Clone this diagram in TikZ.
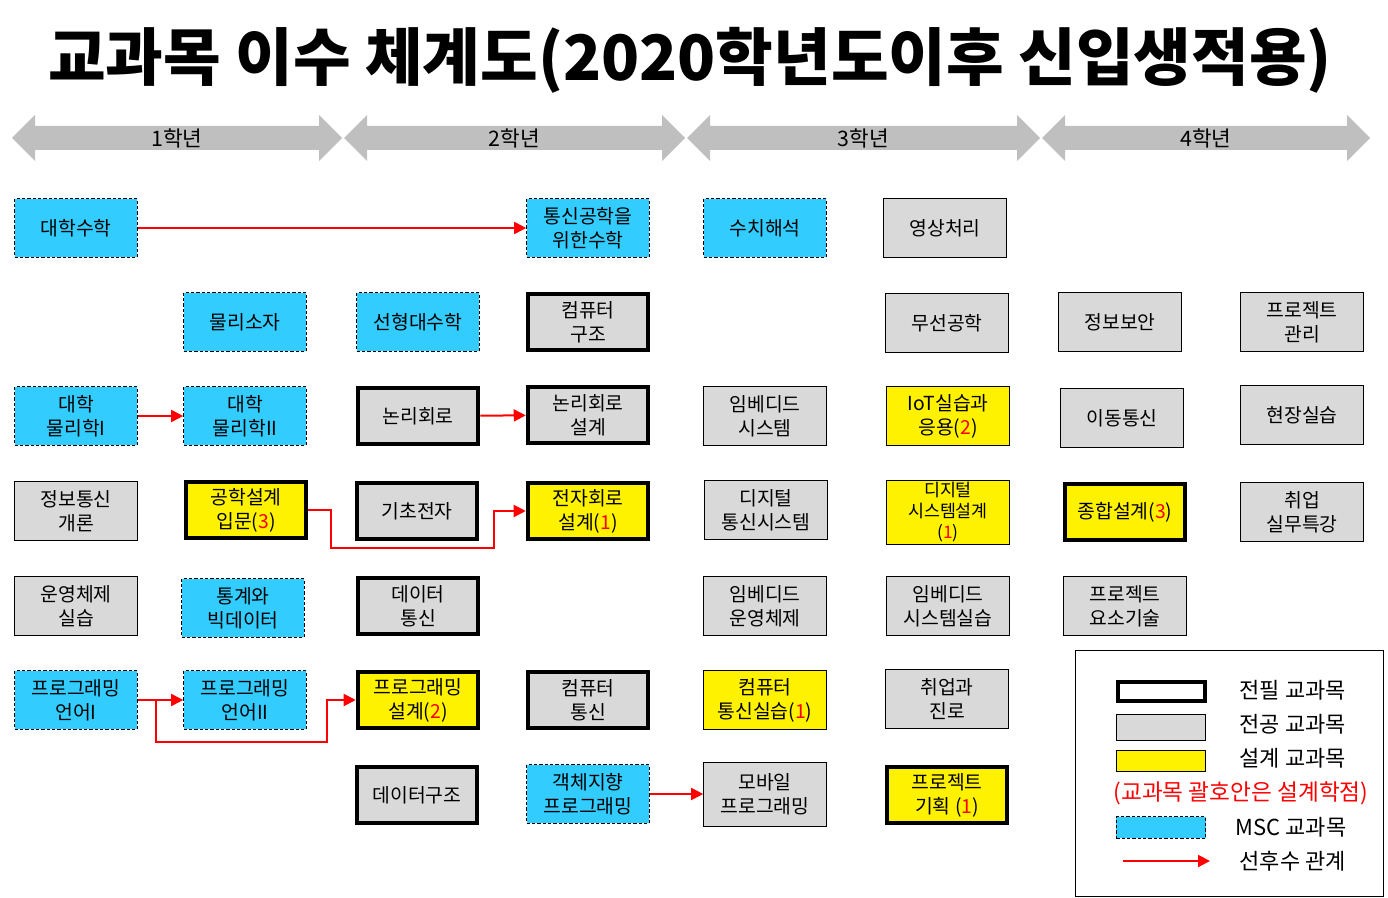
\documentclass[tikz,border=0pt]{standalone}
\usepackage{fontspec}
\setmainfont{Noto Sans CJK KR}
\usetikzlibrary{arrows.meta,positioning}
\definecolor{msccyan}{HTML}{33CCFF}
\definecolor{boxgray}{HTML}{D9D9D9}
\definecolor{bargray}{HTML}{BFBFBF}
\newcommand{\dcr}[1]{(\textcolor{red}{#1})}

\begin{document}
\begin{tikzpicture}[x=0.75pt, y=-0.75pt,
  course/.style={draw, line width=0.75pt, fill=boxgray, minimum width=92pt, minimum height=44pt,
    inner sep=1pt, align=center, font=\fontsize{14.5}{18}\selectfont},
  msc/.style={course, fill=msccyan, dash pattern=on 2.5pt off 1.5pt},
  req/.style={line width=3.4pt, minimum width=90pt, minimum height=42pt},
  dsgn/.style={fill=yellow},
  prereq/.style={draw=red, line width=1.5pt, -{Triangle[length=9pt,width=9pt]}},
  lgtext/.style={anchor=west, font=\fontsize{16.5}{18}\selectfont}]
\useasboundingbox (0,0) rectangle (1388,898);
% title
\node[font=\fontsize{47}{52}\selectfont\bfseries] (title) at (690,60) {교과목 이수 체계도(2020학년도이후 신입생적용)};
% year arrows
\foreach \xa/\xb/\n in {12/342/1, 344/685/2, 687/1040/3, 1042/1370/4} {
  \fill[bargray] (\xa,138) -- (\xa+23,115) -- (\xa+23,126) -- (\xb-23,126) -- (\xb-23,115) -- (\xb,138)
    -- (\xb-23,161) -- (\xb-23,150) -- (\xa+23,150) -- (\xa+23,161) -- cycle;
  \node[font=\fontsize{16}{18}\selectfont] (yr\n) at ({(\xa+\xb)/2},138) {{\n}학년};
}
% row 1
\node[msc] (dm) at (76,228) {대학수학};
\node[msc] (tsm) at (588,228) {통신공학을\\위한수학};
\node[msc] (sch) at (765,228) {수치해석};
\node[course] (ysc) at (945,228) {영상처리};
% row 2
\node[msc] (mls) at (245,322) {물리소자};
\node[msc] (sdh) at (418,322) {선형대수학};
\node[course,req] (cpa) at (588,322) {컴퓨터\\구조};
\node[course] (mss) at (947,323) {무선공학};
\node[course] (jbb) at (1120,322) {정보보안};
\node[course] (pmg) at (1302,322) {프로젝트\\관리};
% row 3
\node[msc] (ph1) at (76,416) {대학\\물리학I};
\node[msc] (ph2) at (245,416) {대학\\물리학II};
\node[course,req] (lgc) at (418,416) {논리회로};
\node[course,req] (lgd) at (588,415) {논리회로\\설계};
\node[course] (ems) at (765,416) {임베디드\\시스템};
\node[course,dsgn] (iot) at (948,416) {IoT실습과\\응용\dcr{2}};
\node[course] (mob) at (1122,418) {이동통신};
\node[course] (fld) at (1302,415) {현장실습};
% row 4
\node[course] (ict) at (76,511) {정보통신\\개론};
\node[course,req,dsgn] (eds) at (246,510) {공학설계\\입문\dcr{3}};
\node[course,req] (bel) at (417,511) {기초전자};
\node[course,req,dsgn] (ecd) at (588,511) {전자회로\\설계\dcr{1}};
\node[course] (dcs) at (766,510) {디지털\\통신시스템};
\node[course,dsgn,minimum height=48pt,font=\fontsize{13}{15.5}\selectfont] (dsd) at (948,512) {디지털\\시스템설계\\\dcr{1}};
\node[course,req,dsgn] (cap) at (1125,512) {종합설계\dcr{3}};
\node[course] (emp) at (1302,512) {취업\\실무특강};
% row 5
\node[course] (osl) at (76,606) {운영체제\\실습};
\node[msc] (sbd) at (243,608) {통계와\\빅데이터};
\node[course,req] (dcm) at (418,606) {데이터\\통신};
\node[course] (eos) at (765,606) {임베디드\\운영체제};
\node[course] (esl) at (948,606) {임베디드\\시스템실습};
\node[course] (pet) at (1125,606) {프로젝트\\요소기술};
% row 6
\node[msc] (pl1) at (76,700) {프로그래밍\\언어I};
\node[msc] (pl2) at (245,700) {프로그래밍\\언어II};
\node[course,req,dsgn] (pgd) at (418,700) {프로그래밍\\설계\dcr{2}};
\node[course,req] (cmn) at (588,700) {컴퓨터\\통신};
\node[course,dsgn] (cml) at (765,700) {컴퓨터\\통신실습\dcr{1}};
\node[course] (car) at (947,699) {취업과\\진로};
% row 7
\node[course,req] (dst) at (417,795) {데이터구조};
\node[msc] (oop) at (588,794) {객체지향\\프로그래밍};
\node[course,minimum height=48pt] (mop) at (765,794) {모바일\\프로그래밍};
\node[course,req,dsgn] (ppl) at (947,795) {프로젝트\\기획 \dcr{1}};
% prerequisites
\draw[prereq] (dm) -- (tsm);
\draw[prereq] (ph1) -- (ph2);
\draw[prereq] (lgc) -- (lgd);
\coordinate (k1) at (331,548);
\coordinate (k2) at (494,548);
\draw[prereq] (eds.east) -| (k1) -- (k2) |- (ecd.west);
\draw[prereq] (pl1) -- (pl2);
\coordinate (k3) at (156,742);
\coordinate (k4) at (327,742);
\draw[prereq] (k3 |- pl1.east) -- (k3) -- (k4) |- (pgd.west);
\draw[prereq] (oop) -- (mop);
% legend
\node[draw, line width=0.75pt, minimum width=231pt, minimum height=185pt] (legend) at (1229,773.5) {};
\node[draw, fill=white, line width=3.4pt, minimum width=65pt, minimum height=14pt] (lg1) at (1161.5,691.5) {};
\node[draw, fill=boxgray, line width=0.75pt, minimum width=67pt, minimum height=19pt] (lg2) at (1161,727.5) {};
\node[draw, fill=yellow, line width=0.75pt, minimum width=67pt, minimum height=16pt] (lg3) at (1161,761) {};
\node[draw, fill=msccyan, line width=0.75pt, dash pattern=on 2.5pt off 1.5pt, minimum width=67pt, minimum height=16pt] (lg4) at (1161,827.5) {};
\coordinate (la) at (1123,861);
\coordinate (lb) at (1210,861);
\draw[prereq] (la) -- (lb);
\node[lgtext] (lt1) at (1235,690) {전필 교과목};
\node[lgtext] (lt2) at (1235,724) {전공 교과목};
\node[lgtext] (lt3) at (1235,758) {설계 교과목};
\node[font=\fontsize{17}{18}\selectfont, text=red] (lt4) at (1241,793) {(교과목 괄호안은 설계학점)};
\node[lgtext] (lt5) at (1231,827) {MSC 교과목};
\node[lgtext] (lt6) at (1235,861) {선후수 관계};
\end{tikzpicture}
\end{document}
